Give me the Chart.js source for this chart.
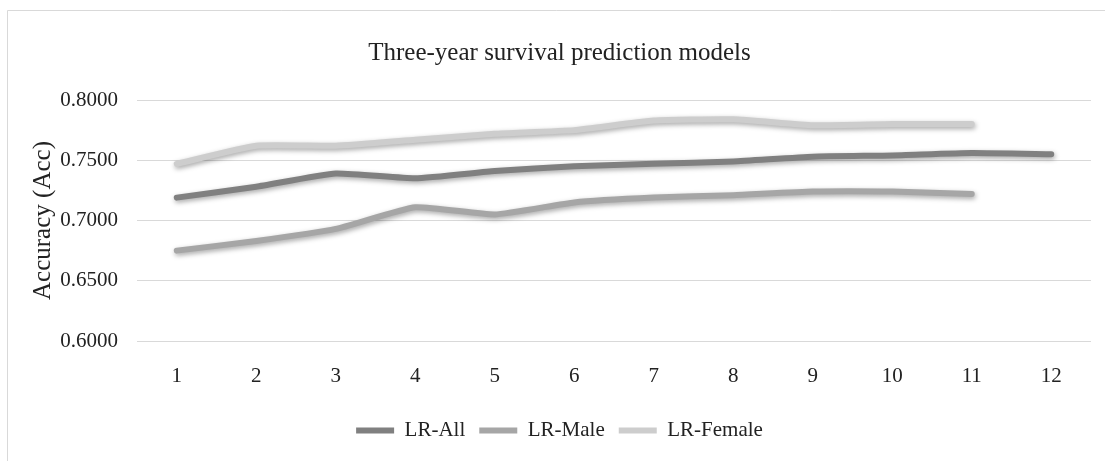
<!DOCTYPE html>
<html>
<head>
<meta charset="utf-8">
<script src="https://cdn.jsdelivr.net/npm/chart.js@4/dist/chart.umd.min.js"></script>
<style>
  html, body { margin: 0; padding: 0; background: #fff; }
  #wrap { width: 1105px; height: 461px; }
</style>
</head>
<body>
<div id="wrap"><canvas id="chart" width="1105" height="461"></canvas></div>
<script>
// Follow-up year of the model
const years = ['1', '2', '3', '4', '5', '6', '7', '8', '9', '10', '11', '12'];

// Accuracy of the logistic-regression models per year
const lrAll    = [0.719, 0.728, 0.739, 0.735, 0.741, 0.745, 0.747, 0.749, 0.753, 0.754, 0.756, 0.755];
const lrMale   = [0.675, 0.683, 0.693, 0.711, 0.705, 0.715, 0.719, 0.721, 0.724, 0.724, 0.722];
const lrFemale = [0.747, 0.762, 0.762, 0.767, 0.772, 0.775, 0.783, 0.784, 0.779, 0.780, 0.780];

// Value axis ticks
const accTicks = [0.60, 0.65, 0.70, 0.75, 0.80];

const SERIF = "'Liberation Serif', 'Times New Roman', serif";
const TEXT = '#222222';
const GRID = '#d9d9d9';

// White page plus the light frame around the chart
const framePlugin = {
  id: 'frame',
  beforeDraw(chart) {
    const ctx = chart.ctx;
    ctx.save();
    ctx.fillStyle = '#ffffff';
    ctx.fillRect(0, 0, chart.width, chart.height);
    ctx.strokeStyle = GRID;
    ctx.lineWidth = 1;
    ctx.beginPath();
    ctx.moveTo(7.5, chart.height);
    ctx.lineTo(7.5, 10.5);
    ctx.lineTo(chart.width, 10.5);
    ctx.stroke();
    ctx.restore();
  }
};

// Soft drop shadow under each series line
const shadowPlugin = {
  id: 'lineShadow',
  beforeDatasetDraw(chart) {
    const ctx = chart.ctx;
    ctx.save();
    ctx.shadowColor = 'rgba(0,0,0,0.35)';
    ctx.shadowBlur = 5;
    ctx.shadowOffsetX = 1;
    ctx.shadowOffsetY = 2;
  },
  afterDatasetDraw(chart) {
    chart.ctx.restore();
  }
};

function series(label, data, color) {
  return {
    label,
    data,
    borderColor: color,
    backgroundColor: color,
    borderWidth: 6,
    borderCapStyle: 'round',
    borderJoinStyle: 'round',
    pointRadius: 0,
    pointHoverRadius: 0,
    tension: 0.15,
    fill: false
  };
}

new Chart(document.getElementById('chart'), {
  type: 'line',
  data: {
    labels: years,
    datasets: [
      series('LR-All', lrAll, '#808080'),
      series('LR-Male', lrMale, '#a6a6a6'),
      series('LR-Female', lrFemale, '#cdcdcd')
    ]
  },
  options: {
    responsive: false,
    animation: false,
    devicePixelRatio: 1,
    layout: { padding: { left: 28, right: 14, top: 0, bottom: 10 } },
    plugins: {
      title: {
        display: true,
        text: 'Three-year survival prediction models',
        color: TEXT,
        font: { family: SERIF, size: 25, weight: 'normal' },
        padding: { top: 38, bottom: 32 }
      },
      legend: {
        position: 'bottom',
        labels: {
          color: TEXT,
          font: { family: SERIF, size: 21 },
          usePointStyle: true,
          pointStyle: 'line',
          pointStyleWidth: 38,
          padding: 14
        }
      },
      tooltip: { enabled: false }
    },
    scales: {
      x: {
        offset: true,
        grid: { display: false, offset: true },
        border: { display: false },
        ticks: {
          color: TEXT,
          font: { family: SERIF, size: 21 },
          padding: 15,
          maxRotation: 0
        },
        afterFit(scale) { scale.height = 65; }
      },
      y: {
        min: 0.6,
        max: 0.8,
        grid: { color: GRID, lineWidth: 1, drawTicks: false },
        border: { display: false },
        afterBuildTicks(scale) { scale.ticks = accTicks.map(v => ({ value: v })); },
        ticks: {
          color: TEXT,
          font: { family: SERIF, size: 21 },
          padding: 19,
          callback: v => Number(v).toFixed(4)
        },
        title: {
          display: true,
          text: 'Accuracy (Acc)',
          color: TEXT,
          font: { family: SERIF, size: 25 },
          padding: { top: 0, bottom: 0 }
        },
        afterFit(scale) { scale.width = 109; }
      }
    }
  },
  plugins: [framePlugin, shadowPlugin]
});
</script>
</body>
</html>
